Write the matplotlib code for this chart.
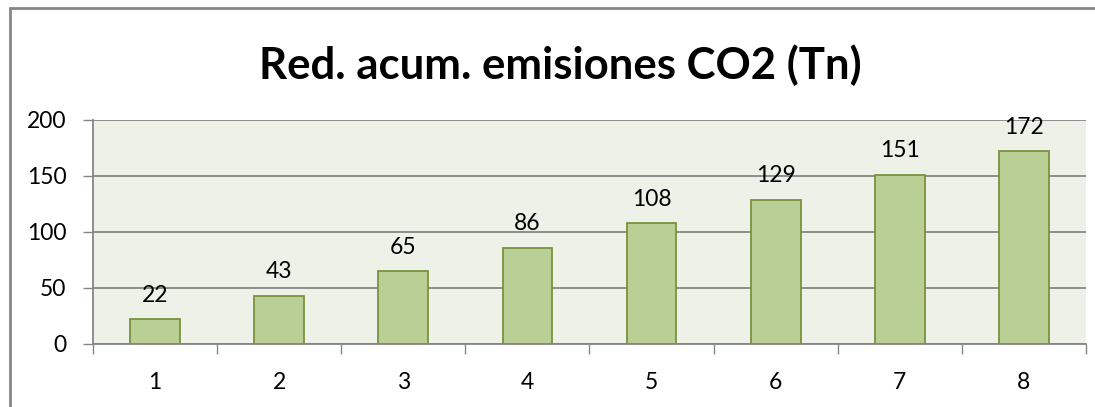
import matplotlib
matplotlib.use("Agg")
import matplotlib.pyplot as plt
import numpy as np

# datos
categorias = ["1", "2", "3", "4", "5", "6", "7", "8"]
valores = [22, 43, 65, 86, 108, 129, 151, 172]
ticks_y = [0, 50, 100, 150, 200]

plt.rcParams['font.family'] = ['Lato', 'DejaVu Sans']

fig = plt.figure(figsize=(10.95, 4.07), dpi=100)
ax = fig.add_axes([0.0849, 0.1548, 0.9069, 0.5504])

x = np.arange(len(categorias))
ax.bar(x, valores, width=0.4, color='#B9CF96', edgecolor='#77933C', linewidth=1.3, zorder=3)

for xi, v in zip(x, valores):
    ax.text(xi, v + 12, str(v), ha='center', va='bottom', fontsize=16.5, color='black', zorder=4)

ax.set_xlim(-0.5, len(categorias) - 0.5)
ax.set_ylim(0, 200)
ax.set_yticks(ticks_y)
ax.set_yticklabels([str(t) for t in ticks_y], fontsize=16.5)
ax.set_xticks(x)
ax.set_xticklabels(categorias, fontsize=16.5)
ax.tick_params(axis='x', length=0, pad=20)
ax.set_xticks(np.arange(-0.5, len(categorias)), minor=True)
ax.tick_params(axis='x', which='minor', length=7, color='#868686', width=1)
ax.tick_params(axis='y', length=7, color='#868686', width=1, pad=12)

ax.set_facecolor('#EEF1E8')
ax.grid(axis='y', color='#868686', linewidth=1.3, zorder=1)
ax.set_axisbelow(True)
for s in ['top', 'right']:
    ax.spines[s].set_visible(False)
for s in ['left', 'bottom']:
    ax.spines[s].set_color('#868686')
    ax.spines[s].set_linewidth(1.3)

fig.text(0.512, 0.84, "Red. acum. emisiones CO2 (Tn)", ha='center', va='center',
         fontsize=31.5, fontweight='bold')

# borde exterior
fig.patches.append(plt.Rectangle((0.009, -0.1), 1.2, 1.08, transform=fig.transFigure,
                                 fill=False, edgecolor='#868686', linewidth=2))

fig.savefig("out.png", dpi=100)
